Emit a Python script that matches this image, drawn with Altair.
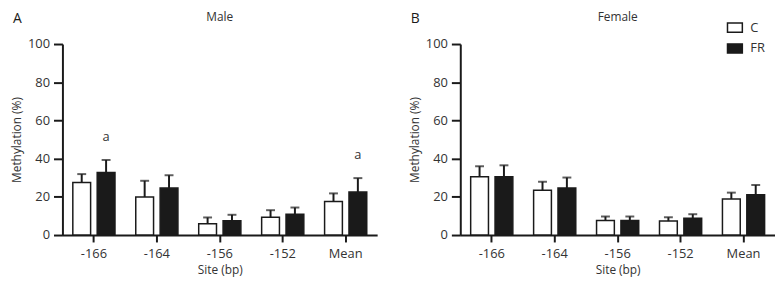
import altair as alt
import pandas as pd

sites = ["-166", "-164", "-156", "-152", "Mean"]
groups = ["C", "FR"]

male_c = [27.5, 19.9, 5.9, 9.3, 17.5]
male_c_sem = [4.4, 8.5, 3.3, 3.7, 4.3]
male_fr = [32.7, 24.6, 7.5, 10.9, 22.5]
male_fr_sem = [6.6, 6.7, 3.1, 3.5, 7.3]

female_c = [30.5, 23.5, 7.6, 7.3, 18.9]
female_c_sem = [5.5, 4.4, 2.1, 2.0, 3.3]
female_fr = [30.5, 24.6, 7.6, 8.8, 21.1]
female_fr_sem = [6.0, 5.5, 2.1, 2.1, 5.1]

male_sig_fr = ["a", "", "", "", "a"]
female_sig_fr = ["", "", "", "", ""]

y_ticks = [0, 20, 40, 60, 80, 100]

FONT = "Open Sans"
TXT = "#333333"
INK = "#1a1a1a"


def make_df(c, c_sem, fr, fr_sem, sig_fr):
    rows = []
    for i, s in enumerate(sites):
        rows.append({"site": s, "group": "C", "mean": c[i], "upper": c[i] + c_sem[i], "sig": ""})
        rows.append({"site": s, "group": "FR", "mean": fr[i], "upper": fr[i] + fr_sem[i], "sig": sig_fr[i]})
    return pd.DataFrame(rows)


def panel(df, title, letter, show_legend):
    base = alt.Chart(df)
    x = alt.X(
        "site:N",
        sort=sites,
        scale=alt.Scale(paddingInner=0.33, paddingOuter=0.165),
        axis=alt.Axis(title="Site (bp)", labelAngle=0, tickSize=7, tickWidth=2,
                      domainWidth=2, domainColor=INK, tickColor=INK,
                      labelPadding=6, titlePadding=4),
    )
    xoff = alt.XOffset("group:N", sort=groups,
                       scale=alt.Scale(paddingInner=0.27, paddingOuter=0))
    yaxis = alt.Axis(title="Methylation (%)", values=y_ticks, labelOverlap=False,
                     tickSize=9, tickWidth=2, domainWidth=2, domainColor=INK,
                     tickColor=INK, grid=False, labelPadding=4, titlePadding=4)
    yscale = alt.Scale(domain=[0, 100])
    y_mean = alt.Y("mean:Q", scale=yscale, axis=yaxis)
    y_up = alt.Y("upper:Q", scale=yscale, axis=yaxis)
    if show_legend:
        leg = alt.Legend(title=None, orient="none", legendX=269, legendY=-25,
                         symbolType="M-1,-0.62H1V0.62H-1Z", symbolSize=225,
                         symbolStrokeColor=INK, symbolStrokeWidth=1.5,
                         labelFontSize=13, labelColor=TXT, labelFont=FONT,
                         labelOffset=7, rowPadding=4)
    else:
        leg = None
    fill = alt.Fill("group:N", sort=groups,
                    scale=alt.Scale(domain=groups, range=["white", INK]),
                    legend=leg)
    bars = base.mark_bar(stroke=INK, strokeWidth=1.5).encode(x=x, xOffset=xoff, y=y_mean, fill=fill)
    rules = base.mark_rule(color=INK, strokeWidth=2).encode(
        x=x, xOffset=xoff, y=y_mean, y2="upper:Q")
    caps = base.mark_tick(color=INK, orient="horizontal", size=9, thickness=2).encode(
        x=x, xOffset=xoff, y=y_up)
    sig = base.mark_text(baseline="bottom", dy=-16, fontSize=13, color=TXT, font=FONT).encode(
        x=x, xOffset=xoff, y=y_up, text="sig:N")
    lab = alt.Chart(pd.DataFrame({"t": [letter]})).mark_text(
        fontSize=14, color=INK, font=FONT, align="left", baseline="top"
    ).encode(text="t:N", x=alt.value(-50), y=alt.value(-32))
    ttl = alt.Chart(pd.DataFrame({"t": [title]})).mark_text(
        fontSize=12, color=TXT, font=FONT, align="center", baseline="top"
    ).encode(text="t:N", x=alt.value(159), y=alt.value(-32))
    return alt.layer(bars, rules, caps, sig, lab, ttl).properties(width=318, height=193)


left = panel(make_df(male_c, male_c_sem, male_fr, male_fr_sem, male_sig_fr), "Male", "A", False)
right = panel(make_df(female_c, female_c_sem, female_fr, female_fr_sem, female_sig_fr), "Female", "B", True)

chart = alt.hconcat(left, right, spacing=31).resolve_scale(fill="independent").properties(
    padding={"left": 2, "top": 2, "right": 0, "bottom": 0}
).configure_view(stroke=None).configure_axis(
    labelFont=FONT, titleFont=FONT, labelFontSize=13, titleFontSize=12,
    labelColor=TXT, titleColor=TXT, titleFontWeight="normal",
)

chart.save("out.html", embed_options={"renderer": "svg", "actions": False})
